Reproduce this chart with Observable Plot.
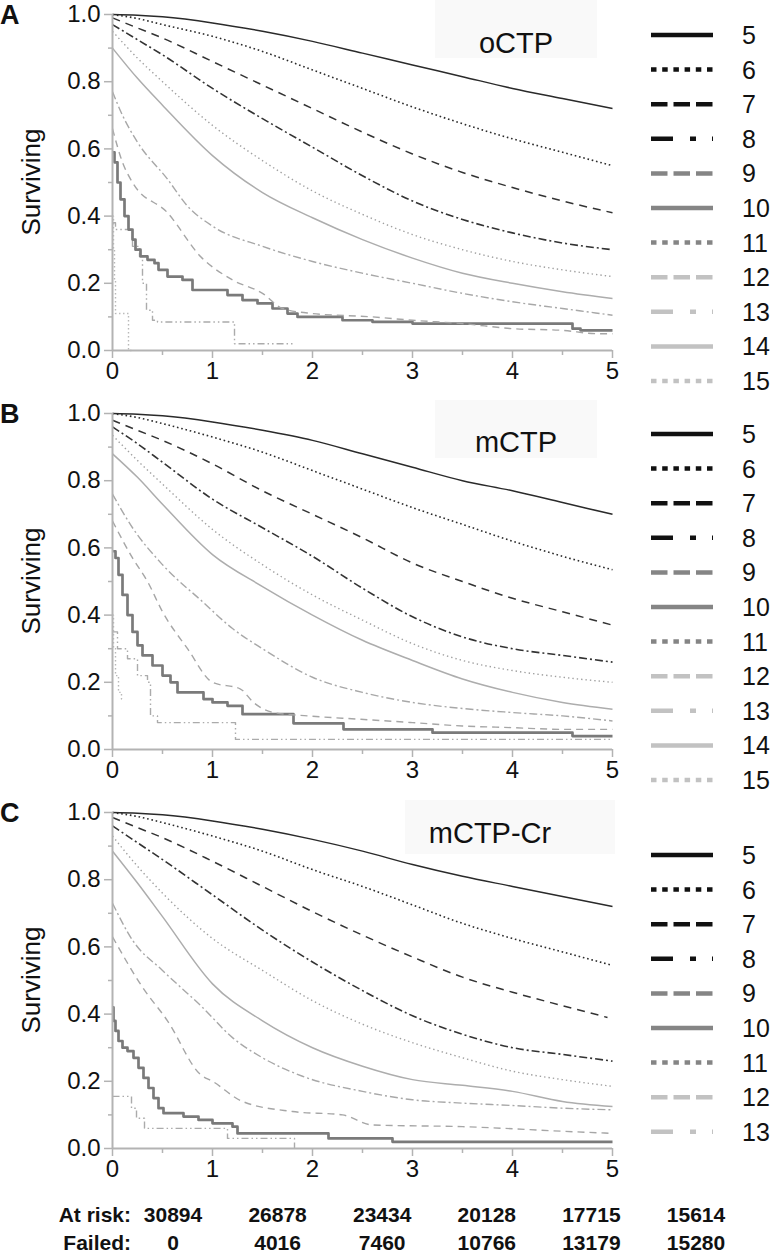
<!DOCTYPE html>
<html><head><meta charset="utf-8">
<script src="https://cdn.jsdelivr.net/npm/d3@7"></script>
<script src="https://cdn.jsdelivr.net/npm/@observablehq/plot@0.6"></script>
<style>
html,body{margin:0;padding:0;background:#fff;}
#root{position:relative;width:774px;height:1254px;overflow:hidden;font-family:"Liberation Sans",Arial,sans-serif;color:#111;}
</style></head><body><div id="root"></div>
<script>
// ---------- DATA ----------
const panelLetters = ["A", "B", "C"];
const panelNames = ["oCTP", "mCTP", "mCTP-Cr"];
const legendScores = [
  [5, 6, 7, 8, 9, 10, 11, 12, 13, 14, 15],
  [5, 6, 7, 8, 9, 10, 11, 12, 13, 14, 15],
  [5, 6, 7, 8, 9, 10, 11, 12, 13]
];
const yTicks = [0, 0.2, 0.4, 0.6, 0.8, 1.0];
const yMinor = [0.1, 0.3, 0.5, 0.7, 0.9];
const xTicks = [0, 1, 2, 3, 4, 5];
const xMinor = [0.5, 1.5, 2.5, 3.5, 4.5];
const riskLabels = ["At risk:", "Failed:"];
const atRisk = [30894, 26878, 23434, 20128, 17715, 15614];
const failed = [0, 4016, 7460, 10766, 13179, 15280];

// survival curves [years, surviving fraction]
// panel A: oCTP
const A5 = [[0,1],[0.25,0.998],[0.5,0.993],[1,0.975],[1.5,0.95],[2,0.92],[2.5,0.885],[3,0.85],[3.5,0.815],[4,0.78],[4.5,0.75],[5,0.72]];
const A6 = [[0,1],[0.25,0.988],[0.5,0.97],[1,0.935],[1.5,0.89],[2,0.835],[2.5,0.78],[3,0.725],[3.5,0.675],[4,0.63],[4.5,0.59],[5,0.55]];
const A7 = [[0,0.99],[0.25,0.96],[0.5,0.93],[1,0.86],[1.5,0.79],[2,0.72],[2.5,0.65],[3,0.585],[3.5,0.53],[4,0.485],[4.5,0.445],[5,0.41]];
const A8 = [[0,0.97],[0.25,0.925],[0.5,0.88],[1,0.78],[1.5,0.69],[2,0.605],[2.5,0.52],[3,0.445],[3.5,0.39],[4,0.35],[4.5,0.32],[5,0.30]];
const A9 = [[0,0.66],[0.1,0.56],[0.2,0.50],[0.55,0.41],[0.88,0.28],[1.2,0.21],[1.5,0.17],[1.7,0.125],[2,0.11],[2.6,0.10],[3,0.09],[3.5,0.08],[4,0.065],[4.5,0.06],[4.85,0.05],[5,0.05]];
const A10 = [[0,0.59],[0.02,0.56],[0.05,0.50],[0.08,0.45],[0.12,0.40],[0.16,0.36],[0.2,0.33],[0.23,0.30],[0.28,0.28],[0.35,0.27],[0.42,0.26],[0.46,0.24],[0.55,0.22],[0.7,0.21],[0.8,0.18],[1.15,0.165],[1.3,0.15],[1.45,0.14],[1.6,0.125],[1.75,0.11],[1.85,0.10],[2.3,0.09],[2.6,0.085],[3.0,0.08],[4.6,0.065],[4.68,0.06],[5,0.06]];
const A11 = [[0,0.95],[0.25,0.87],[0.5,0.80],[1,0.67],[1.5,0.565],[2,0.475],[2.5,0.405],[3,0.345],[3.5,0.30],[4,0.265],[4.5,0.24],[5,0.22]];
const A12 = [[0,0.38],[0.03,0.36],[0.2,0.31],[0.27,0.28],[0.3,0.20],[0.34,0.12],[0.4,0.09],[0.45,0.085],[1.22,0.02],[1.8,0.02]];
const A13 = [[0,0.77],[0.1,0.70],[0.25,0.62],[0.55,0.51],[0.75,0.43],[1,0.37],[1.5,0.31],[2,0.265],[2.5,0.23],[3,0.20],[3.5,0.17],[4,0.145],[4.5,0.125],[5,0.105]];
const A14 = [[0,0.90],[0.25,0.81],[0.5,0.73],[1,0.58],[1.5,0.47],[2,0.395],[2.5,0.33],[3,0.275],[3.5,0.23],[4,0.20],[4.5,0.175],[5,0.155]];
const A15 = [[0,0.40],[0.01,0.30],[0.02,0.21],[0.03,0.11],[0.16,0],[0.2,0]];
// panel B: mCTP
const B5 = [[0,1],[0.25,0.998],[0.5,0.993],[1,0.975],[1.5,0.95],[2,0.92],[2.5,0.88],[3,0.84],[3.5,0.80],[4,0.77],[4.5,0.735],[5,0.70]];
const B6 = [[0,1],[0.25,0.988],[0.5,0.97],[1,0.93],[1.5,0.885],[2,0.83],[2.5,0.775],[3,0.72],[3.5,0.67],[4,0.62],[4.5,0.575],[5,0.535]];
const B7 = [[0,0.98],[0.25,0.95],[0.5,0.92],[1,0.85],[1.5,0.77],[2,0.70],[2.5,0.63],[3,0.555],[3.5,0.50],[4,0.45],[4.5,0.41],[5,0.37]];
const B8 = [[0,0.96],[0.25,0.91],[0.5,0.855],[1,0.745],[1.5,0.66],[2,0.575],[2.5,0.48],[3,0.395],[3.5,0.335],[4,0.30],[4.5,0.28],[5,0.26]];
const B9 = [[0,0.68],[0.2,0.57],[0.35,0.50],[0.5,0.41],[0.75,0.30],[1.0,0.20],[1.28,0.18],[1.41,0.14],[1.61,0.11],[1.95,0.10],[2.48,0.09],[3,0.08],[3.5,0.07],[4,0.065],[4.5,0.06],[5,0.06]];
const B10 = [[0,0.59],[0.03,0.57],[0.06,0.52],[0.1,0.46],[0.15,0.40],[0.2,0.35],[0.25,0.31],[0.3,0.28],[0.4,0.25],[0.5,0.22],[0.58,0.20],[0.65,0.17],[0.91,0.15],[1.0,0.14],[1.15,0.13],[1.3,0.105],[1.81,0.078],[2.31,0.06],[3.2,0.05],[4.6,0.04],[5,0.04]];
const B11 = [[0,0.935],[0.25,0.86],[0.5,0.79],[1,0.655],[1.5,0.55],[2,0.46],[2.5,0.385],[3,0.315],[3.5,0.265],[4,0.235],[4.5,0.215],[5,0.20]];
const B12 = [[0,0.35],[0.05,0.30],[0.15,0.27],[0.25,0.22],[0.35,0.20],[0.38,0.10],[0.45,0.08],[1.23,0.03],[5,0.03]];
const B13 = [[0,0.76],[0.2,0.66],[0.5,0.55],[0.9,0.44],[1.2,0.36],[1.5,0.30],[2,0.215],[2.5,0.17],[3,0.14],[3.5,0.122],[4,0.11],[4.5,0.10],[5,0.085]];
const B14 = [[0,0.88],[0.25,0.81],[0.5,0.73],[1,0.58],[1.5,0.485],[2,0.40],[2.5,0.325],[3,0.265],[3.5,0.21],[4,0.17],[4.5,0.14],[5,0.12]];
const B15 = [[0,0.40],[0.01,0.30],[0.03,0.22],[0.06,0.17],[0.09,0.15],[0.12,0.15]];
// panel C: mCTP-Cr
const C5 = [[0,1],[0.25,0.998],[0.5,0.993],[1,0.975],[1.5,0.95],[2,0.92],[2.5,0.885],[3,0.845],[3.5,0.81],[4,0.78],[4.5,0.75],[5,0.72]];
const C6 = [[0,1],[0.25,0.988],[0.5,0.97],[1,0.93],[1.5,0.885],[2,0.83],[2.5,0.78],[3,0.725],[3.5,0.67],[4,0.625],[4.5,0.585],[5,0.545]];
const C7 = [[0,0.985],[0.25,0.955],[0.5,0.925],[1,0.855],[1.5,0.78],[2,0.705],[2.5,0.635],[3,0.57],[3.5,0.51],[4,0.465],[4.5,0.425],[4.95,0.39]];
const C8 = [[0,0.96],[0.25,0.91],[0.5,0.86],[1,0.755],[1.5,0.65],[2,0.555],[2.5,0.47],[3,0.395],[3.5,0.34],[4,0.30],[4.5,0.28],[5,0.26]];
const C9 = [[0,0.63],[0.3,0.48],[0.55,0.38],[0.88,0.22],[1.0,0.20],[1.3,0.14],[1.8,0.11],[2.3,0.10],[2.6,0.07],[3.5,0.065],[4.6,0.05],[5,0.045]];
const C10 = [[0,0.42],[0.01,0.38],[0.03,0.35],[0.06,0.32],[0.1,0.30],[0.15,0.29],[0.21,0.27],[0.26,0.24],[0.31,0.21],[0.36,0.18],[0.41,0.15],[0.46,0.12],[0.51,0.105],[0.71,0.095],[0.86,0.085],[1.0,0.075],[1.2,0.065],[1.25,0.045],[2.16,0.03],[2.8,0.02],[5,0.02]];
const C11 = [[0,0.93],[0.25,0.84],[0.5,0.76],[1,0.625],[1.5,0.53],[2,0.44],[2.5,0.37],[3,0.315],[3.5,0.27],[4,0.23],[4.5,0.205],[5,0.185]];
const C12 = [[0,0.155],[0.19,0.12],[0.24,0.09],[0.32,0.06],[1.15,0.03],[1.82,0]];
const C13 = [[0,0.73],[0.2,0.62],[0.5,0.53],[0.9,0.42],[1.2,0.33],[1.5,0.27],[1.9,0.215],[2.5,0.17],[3,0.145],[3.5,0.135],[4,0.128],[4.5,0.12],[5,0.115]];
const C14 = [[0,0.885],[0.25,0.79],[0.5,0.69],[1,0.49],[1.5,0.38],[2,0.30],[2.5,0.245],[3,0.205],[3.5,0.188],[4,0.17],[4.5,0.14],[5,0.125]];

const panelCurves = [
  {5:A5,6:A6,7:A7,8:A8,9:A9,10:A10,11:A11,12:A12,13:A13,14:A14,15:A15},
  {5:B5,6:B6,7:B7,8:B8,9:B9,10:B10,11:B11,12:B12,13:B13,14:B14,15:B15},
  {5:C5,6:C6,7:C7,8:C8,9:C9,10:C10,11:C11,12:C12,13:C13,14:C14}
];

// ---------- STYLES / LAYOUT ----------
const curveStyle = {
  5:  {stroke: "#2a2a2a", w: 1.5, dash: null},
  6:  {stroke: "#2a2a2a", w: 1.6, dash: "1.6,2.8"},
  7:  {stroke: "#333", w: 1.5, dash: "8,6"},
  8:  {stroke: "#333", w: 1.6, dash: "8,3,2,3"},
  9:  {stroke: "#a6a6a6", w: 1.4, dash: "7,5"},
  10: {stroke: "#7a7a7a", w: 2.7, dash: null, step: true},
  11: {stroke: "#a0a0a0", w: 1.4, dash: "1.4,3"},
  12: {stroke: "#ababab", w: 1.4, dash: "7,3,1.5,3,1.5,3", step: true},
  13: {stroke: "#a8a8a8", w: 1.4, dash: "8,3,2,3"},
  14: {stroke: "#adadad", w: 1.5, dash: null},
  15: {stroke: "#b8b8b8", w: 1.4, dash: "1.4,2.6", step: true}
};
const legendStyle = {
  5:  {stroke: "#111", dash: null},
  6:  {stroke: "#111", dash: "5.5,5.7"},
  7:  {stroke: "#111", dash: "16.5,6"},
  8:  {stroke: "#111", dash: "22,17,6,16,2,100"},
  9:  {stroke: "#858585", dash: "16.5,6"},
  10: {stroke: "#858585", dash: null},
  11: {stroke: "#858585", dash: "5.5,5.7"},
  12: {stroke: "#c2c2c2", dash: "16.5,6"},
  13: {stroke: "#c2c2c2", dash: "22,17,6,16,2,100"},
  14: {stroke: "#c2c2c2", dash: null},
  15: {stroke: "#c2c2c2", dash: "5.5,5.7"}
};
const FONT = "'Liberation Sans', Arial, Helvetica, sans-serif";
const PANEL_TOP = [0, 399, 798];
const LEGEND_TOP = [35, 434, 855];
const LEGEND_STEP = 34.6;
const TITLE_POS = [[516, 53], [516, 452], [490, 843]];
const BOX = [[435, 0, 162, 58], [435, 400, 162, 58], [405, 800, 210, 54]];
const AXIS_GRAY = "#b3b3b3";

const root = document.getElementById("root");

// title boxes (under the plots)
BOX.forEach(b => {
  const d = document.createElement("div");
  Object.assign(d.style, {position: "absolute", left: b[0] + "px", top: b[1] + "px",
    width: b[2] + "px", height: b[3] + "px", background: "#f9f9f9"});
  root.appendChild(d);
});

panelCurves.forEach((curves, i) => {
  const marks = [];
  Object.keys(curves).map(Number).sort((a, b) => b - a).forEach(s => {
    const st = curveStyle[s];
    marks.push(Plot.line(curves[s], {
      x: d => d[0], y: d => d[1],
      stroke: st.stroke, strokeWidth: st.w,
      strokeDasharray: st.dash || undefined,
      curve: st.step ? "step-after" : "monotone-x",
      strokeLinecap: "butt"
    }));
  });
  marks.push(
    Plot.ruleX([0], {stroke: AXIS_GRAY, strokeWidth: 2}),
    Plot.ruleY([0], {stroke: AXIS_GRAY, strokeWidth: 2}),
    Plot.axisY(yTicks, {tickSize: 8, tickPadding: 4, tickFormat: d3.format(".1f"),
      stroke: AXIS_GRAY, strokeWidth: 1.5, fill: "#111", fontSize: 24, label: null}),
    Plot.axisY(yMinor, {tickSize: 4, tickFormat: () => "", stroke: AXIS_GRAY, strokeWidth: 1.5, label: null}),
    Plot.axisX(xTicks, {tickSize: 8, tickPadding: 3, tickFormat: d => String(d),
      stroke: AXIS_GRAY, strokeWidth: 1.5, fill: "#111", fontSize: 24, label: null}),
    Plot.axisX(xMinor, {tickSize: 5, tickFormat: () => "", stroke: AXIS_GRAY, strokeWidth: 1.5, label: null})
  );
  const svg = Plot.plot({
    width: 774, height: 400,
    marginLeft: 112, marginRight: 162, marginTop: 14, marginBottom: 50,
    x: {domain: [0, 5]}, y: {domain: [0, 1]},
    style: {background: "transparent", fontFamily: FONT, fontSize: "24px", color: "#111", overflow: "visible"},
    marks
  });
  svg.style.position = "absolute";
  svg.style.left = "0px";
  svg.style.top = PANEL_TOP[i] + "px";
  root.appendChild(svg);
});

// overlay: letters, y labels, titles, legends, table
const ov = d3.select(root).append("svg")
  .attr("width", 774).attr("height", 1254)
  .style("position", "absolute").style("left", "0px").style("top", "0px")
  .style("font-family", FONT).attr("fill", "#111");

panelLetters.forEach((L, i) => {
  const top = PANEL_TOP[i];
  ov.append("text").attr("x", 0).attr("y", top + 24).attr("font-size", 27)
    .attr("font-weight", "bold").text(L);
  ov.append("text").attr("transform", `translate(40,${top + 182}) rotate(-90)`)
    .attr("text-anchor", "middle").attr("font-size", 26).text("Surviving");
  ov.append("text").attr("x", TITLE_POS[i][0]).attr("y", TITLE_POS[i][1])
    .attr("text-anchor", "middle").attr("font-size", 29).text(panelNames[i]);
  legendScores[i].forEach((s, j) => {
    const y = LEGEND_TOP[i] + j * LEGEND_STEP;
    const ls = legendStyle[s];
    const ln = ov.append("line").attr("x1", 651).attr("x2", 713).attr("y1", y).attr("y2", y)
      .attr("stroke", ls.stroke).attr("stroke-width", 4.5);
    if (ls.dash) ln.attr("stroke-dasharray", ls.dash);
    ov.append("text").attr("x", 742).attr("y", y + 9).attr("font-size", 25).text(s);
  });
});

const colX = atRisk.map((_, k) => 173 + k * 104.6);
[atRisk, failed].forEach((row, r) => {
  const y = 1222 + r * 28;
  ov.append("text").attr("x", 131).attr("y", y).attr("text-anchor", "end")
    .attr("font-size", 21).attr("font-weight", "bold").text(riskLabels[r]);
  row.forEach((v, k) => {
    ov.append("text").attr("x", colX[k]).attr("y", y).attr("text-anchor", "middle")
      .attr("font-size", 21).attr("font-weight", "bold").text(v);
  });
});
</script></body></html>
